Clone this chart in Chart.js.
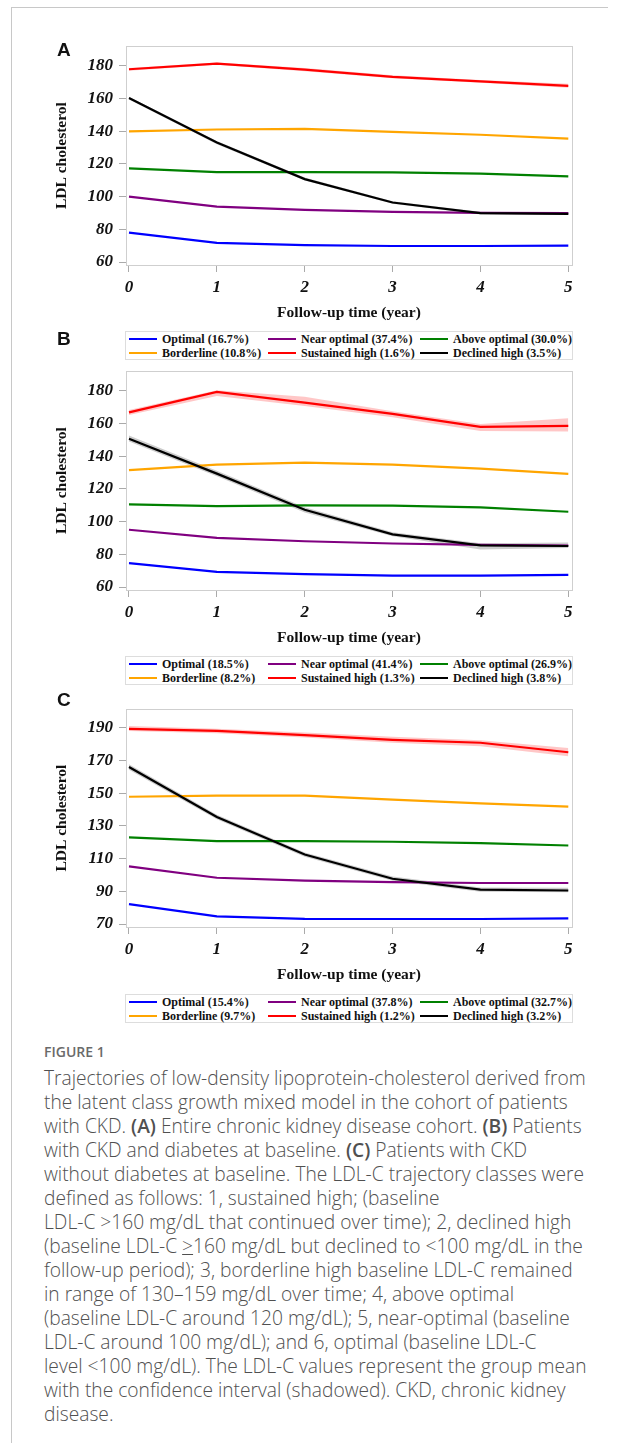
<!DOCTYPE html>
<html>
<head>
<meta charset="utf-8">
<script src="https://cdn.jsdelivr.net/npm/chart.js@4.4.1/dist/chart.umd.min.js"></script>
<style>
  body { margin: 0; background: #fff; }
  #page { position: relative; width: 621px; height: 1443px; overflow: hidden; background: #fff; }
  .pageframe { position: absolute; left: 11px; top: 7px; width: 596px; height: 1440px;
    border-left: 1px solid #c8c8c8; border-top: 1px solid #c8c8c8; }
  canvas { position: absolute; left: 0; }
  .tag { position: absolute; left: 57px; font: bold 19px 'Liberation Sans', Arial, sans-serif; color: #111; line-height: 1; z-index: 2; }
  .legend { position: absolute; left: 125px; width: 446px; height: 27px; border: 1px solid #ddd;
    font: bold 12px 'Liberation Serif', 'Times New Roman', serif; color: #111; }
  .item { position: absolute; height: 14px; line-height: 14px; white-space: nowrap; }
  .item i { display: inline-block; width: 28px; height: 2px; vertical-align: middle; margin-right: 5px; position: relative; top: -1px; }
  .figlabel { position: absolute; left: 44px; top: 1042px; font: 600 14px 'Open Sans', sans-serif; color: #6a6a6a; }
  .captext { position: absolute; left: 44px; top: 1066px; font: 300 19.2px/24px 'Open Sans', sans-serif; color: #505050; white-space: nowrap; }
  .captext b { font-weight: 600; }
</style>
</head>
<body>
<div id="page">
  <div class="pageframe"></div>

  <div class="tag" style="top:40px">A</div>
  <canvas id="chartA" width="621" height="296" style="top:30px"></canvas>
  <div class="legend" id="legendA" style="top:331px"></div>

  <div class="tag" style="top:329px">B</div>
  <canvas id="chartB" width="621" height="296" style="top:355px"></canvas>
  <div class="legend" id="legendB" style="top:656px"></div>

  <div class="tag" style="top:690px">C</div>
  <canvas id="chartC" width="621" height="295" style="top:693px"></canvas>
  <div class="legend" id="legendC" style="top:994px"></div>

  <div class="figlabel">FIGURE 1</div>
  <div class="captext">
    Trajectories of low-density lipoprotein-cholesterol derived from<br>
    the latent class growth mixed model in the cohort of patients<br>
    with CKD. <b>(A)</b> Entire chronic kidney disease cohort. <b>(B)</b> Patients<br>
    with CKD and diabetes at baseline. <b>(C)</b> Patients with CKD<br>
    without diabetes at baseline. The LDL-C trajectory classes were<br>
    defined as follows: 1, sustained high; (baseline<br>
    LDL-C &gt;160 mg/dL that continued over time); 2, declined high<br>
    (baseline LDL-C <u>&gt;</u>160 mg/dL but declined to &lt;100 mg/dL in the<br>
    follow-up period); 3, borderline high baseline LDL-C remained<br>
    in range of 130–159 mg/dL over time; 4, above optimal<br>
    (baseline LDL-C around 120 mg/dL); 5, near-optimal (baseline<br>
    LDL-C around 100 mg/dL); and 6, optimal (baseline LDL-C<br>
    level &lt;100 mg/dL). The LDL-C values represent the group mean<br>
    with the confidence interval (shadowed). CKD, chronic kidney<br>
    disease.
  </div>
</div>

<script>
const years = [0, 1, 2, 3, 4, 5];
const classNames = ['Optimal', 'Near optimal', 'Above optimal', 'Borderline', 'Sustained high', 'Declined high'];
const lineColors = ['#0000ff', '#800080', '#008000', '#ffa500', '#ff0000', '#000000'];
const bandColors = ['rgba(255,0,0,0.22)', 'rgba(0,0,0,0.2)'];

// panel A - entire CKD cohort
const shareA = ['16.7%', '37.4%', '30.0%', '10.8%', '1.6%', '3.5%'];
const optimalA = [78.0, 71.7, 70.3, 69.8, 69.8, 70.1];
const nearA = [100.0, 93.9, 91.9, 90.7, 90.1, 89.9];
const aboveA = [117.2, 115.0, 115.0, 114.8, 114.0, 112.3];
const borderA = [139.8, 141.0, 141.4, 139.6, 137.8, 135.4];
const sustainedA = [177.8, 181.3, 177.6, 173.2, 170.4, 167.7];
const declinedA = [160.2, 133.0, 110.7, 96.4, 89.9, 89.5];
const sustainedHiA = [178.6, 182.0, 178.6, 174.2, 171.3, 169.0];
const sustainedLoA = [176.9, 180.5, 176.6, 172.3, 169.5, 166.5];
const declinedHiA = [161.0, 134.0, 111.6, 97.2, 90.8, 90.3];
const declinedLoA = [159.3, 132.0, 109.8, 95.6, 89.0, 88.7];
const yTicksA = [60, 80, 100, 120, 140, 160, 180];

// panel B - CKD with diabetes
const shareB = ['18.5%', '41.4%', '26.9%', '8.2%', '1.3%', '3.8%'];
const optimalB = [74.6, 69.3, 67.9, 67.0, 67.0, 67.5];
const nearB = [95.0, 90.0, 88.0, 86.6, 85.8, 85.4];
const aboveB = [110.5, 109.5, 109.9, 109.7, 108.7, 106.0];
const borderB = [131.4, 134.8, 136.0, 134.8, 132.4, 129.1];
const sustainedB = [166.7, 179.2, 172.7, 165.8, 157.9, 158.5];
const declinedB = [150.6, 129.3, 107.2, 92.2, 85.5, 85.1];
const sustainedHiB = [168.2, 180.3, 176.3, 167.4, 159.6, 163.2];
const sustainedLoB = [165.2, 176.8, 170.6, 163.8, 155.4, 155.0];
const declinedHiB = [152.6, 131.0, 108.8, 93.5, 86.8, 87.2];
const declinedLoB = [149.0, 127.7, 105.6, 91.0, 83.0, 83.8];
const yTicksB = [60, 80, 100, 120, 140, 160, 180];

// panel C - CKD without diabetes
const shareC = ['15.4%', '37.8%', '32.7%', '9.7%', '1.2%', '3.2%'];
const optimalC = [82.2, 74.7, 73.2, 73.1, 73.1, 73.5];
const nearC = [105.2, 98.3, 96.5, 95.6, 95.1, 95.1];
const aboveC = [123.0, 120.7, 120.7, 120.3, 119.5, 118.0];
const borderC = [147.8, 148.5, 148.5, 146.1, 143.8, 141.8];
const sustainedC = [189.3, 188.0, 185.5, 182.6, 180.8, 175.0];
const declinedC = [166.0, 135.4, 112.5, 97.7, 91.1, 90.5];
const sustainedHiC = [191.0, 189.3, 187.0, 184.4, 182.4, 177.6];
const sustainedLoC = [188.0, 186.6, 184.0, 180.8, 178.6, 172.5];
const declinedHiC = [167.6, 136.8, 113.8, 99.0, 92.3, 92.2];
const declinedLoC = [164.3, 134.0, 111.2, 96.5, 89.8, 89.4];
const yTicksC = [70, 90, 110, 130, 150, 170, 190];

const tickFont = { family: "'Liberation Serif', 'Times New Roman', serif", style: 'italic', weight: 'bold', size: 17 };
const titleFont = { family: "'Liberation Serif', 'Times New Roman', serif", weight: 'bold', size: 15.5 };

const plotFrame = {
  id: 'plotFrame',
  beforeDatasetsDraw(chart) {
    const a = chart.chartArea;
    const ctx = chart.ctx;
    ctx.save();
    ctx.strokeStyle = '#cfcfcf';
    ctx.lineWidth = 1;
    ctx.strokeRect(Math.round(a.left) + 0.5, Math.round(a.top) + 0.5, Math.round(a.right - a.left), Math.round(a.bottom - a.top));
    ctx.restore();
  }
};

function pts(arr) {
  return arr.map((v, i) => ({ x: years[i], y: v }));
}

function makePanel(canvasId, legendId, series, shares, bands, yTicks, yMin, yMax) {
  const datasets = [];
  bands.forEach((b, k) => {
    datasets.push({ data: pts(b[0]), borderWidth: 0, pointRadius: 0, fill: '+1', backgroundColor: bandColors[k], order: 10 });
    datasets.push({ data: pts(b[1]), borderWidth: 0, pointRadius: 0, fill: false, order: 10 });
  });
  series.forEach((s, i) => {
    datasets.push({
      label: classNames[i] + ' (' + shares[i] + ')',
      data: pts(s),
      borderColor: lineColors[i],
      borderWidth: 2.2,
      pointRadius: 0,
      tension: 0,
      fill: false,
      order: 5 - i
    });
  });

  new Chart(document.getElementById(canvasId), {
    type: 'line',
    data: { datasets },
    options: {
      responsive: false,
      animation: false,
      devicePixelRatio: 1,
      layout: { padding: { left: 49, right: 49, top: 10, bottom: 0 } },
      plugins: { legend: { display: false }, tooltip: { enabled: false } },
      scales: {
        x: {
          type: 'linear',
          min: -0.034,
          max: 5.042,
          afterBuildTicks: sc => { sc.ticks = years.map(v => ({ value: v })); },
          afterFit: sc => { sc.height = 61; },
          grid: { display: true, drawOnChartArea: false, drawTicks: true, tickLength: 7, color: '#aaa' },
          border: { display: false },
          ticks: { font: tickFont, color: '#111', padding: 5, maxRotation: 0 },
          title: { display: true, text: 'Follow-up time (year)', font: titleFont, color: '#111', padding: { top: 4, bottom: 4 } }
        },
        y: {
          min: yMin,
          max: yMax,
          afterBuildTicks: sc => { sc.ticks = yTicks.map(v => ({ value: v })); },
          afterFit: sc => { sc.width = 77; },
          grid: { display: true, drawOnChartArea: false, drawTicks: true, tickLength: 7, color: '#aaa' },
          border: { display: false },
          ticks: { font: tickFont, color: '#111', padding: 6 },
          title: { display: true, text: 'LDL cholesterol', font: titleFont, color: '#111', padding: { top: 4, bottom: 4 } }
        }
      }
    },
    plugins: [plotFrame]
  });

  const legend = document.getElementById(legendId);
  const colX = [3, 142, 294];
  classNames.forEach((name, i) => {
    const item = document.createElement('div');
    item.className = 'item';
    item.style.left = colX[i % 3] + 'px';
    item.style.top = (Math.floor(i / 3) * 14) + 'px';
    item.innerHTML = '<i style="background:' + lineColors[i] + '"></i>' + name + ' (' + shares[i] + ')';
    legend.appendChild(item);
  });
}

makePanel('chartA', 'legendA',
  [optimalA, nearA, aboveA, borderA, sustainedA, declinedA], shareA,
  [[sustainedHiA, sustainedLoA], [declinedHiA, declinedLoA]], yTicksA, 58.2, 191.9);

makePanel('chartB', 'legendB',
  [optimalB, nearB, aboveB, borderB, sustainedB, declinedB], shareB,
  [[sustainedHiB, sustainedLoB], [declinedHiB, declinedLoB]], yTicksB, 58.2, 191.9);

makePanel('chartC', 'legendC',
  [optimalC, nearC, aboveC, borderC, sustainedC, declinedC], shareC,
  [[sustainedHiC, sustainedLoC], [declinedHiC, declinedLoC]], yTicksC, 68.2, 201.3);
</script>
</body>
</html>
